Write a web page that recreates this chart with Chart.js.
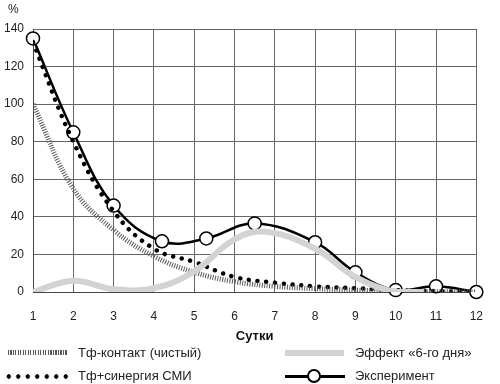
<!DOCTYPE html>
<html>
<head>
<meta charset="utf-8">
<script src="https://cdn.jsdelivr.net/npm/chart.js@4"></script>
<style>
  body { margin: 0; background: #fff; font-family: "Liberation Sans", Arial, sans-serif; color: #222; }
  #wrap { position: relative; width: 500px; height: 384px; }
  #pct { position: absolute; left: 8px; top: 2px; font-size: 12px; }
  .lg { position: absolute; font-size: 13px; line-height: 16px; }
  .smp { position: absolute; }
</style>
</head>
<body>
<div id="wrap">
  <canvas id="chart" width="500" height="348"></canvas>
  <div id="pct">%</div>
  <!-- легенда -->
  <div class="smp" style="left:8px;top:350px;width:59px;height:5px;background:repeating-linear-gradient(90deg,#555 0 1px,#fff 1px 2.5px);"></div>
  <div class="lg" style="left:78px;top:345px;">Тф-контакт (чистый)</div>
  <div class="smp" style="left:4px;top:374px;width:67px;height:5px;background:radial-gradient(circle,#000 2px,transparent 2.5px) 0 0/9.5px 5px repeat-x;"></div>
  <div class="lg" style="left:78px;top:368px;">Тф+синергия СМИ</div>
  <div class="smp" style="left:285px;top:350px;width:59px;height:6px;background:#d3d3d3;"></div>
  <div class="lg" style="left:355px;top:345px;">Эффект «6-го дня»</div>
  <div class="smp" style="left:285px;top:375px;width:60px;height:3px;background:#000;"></div>
  <div class="smp" style="left:307px;top:369px;width:14px;height:14px;border:2px solid #000;border-radius:50%;background:#fff;box-sizing:border-box;"></div>
  <div class="lg" style="left:355px;top:368px;">Эксперимент</div>
</div>
<script>
// данные
const days = [1, 2, 3, 4, 5, 6, 7, 8, 9, 10, 11, 12];
const contactValues = [100, 55, 33, 19, 10.5, 5.5, 3, 1.8, 1, 0.5, 0.2, 0];
const synergyValues = [133, 80, 43, 23, 16, 8, 5, 3, 2, 1, 0.5, 0];
const effectX = [1, 2, 3, 4, 5, 6, 6.8, 8, 9, 10, 10.7];
const effectValues = [0, 6, 1.5, 2, 11, 28, 32, 23, 8, 0, 0];
const experimentX = [1, 2, 3, 4.2, 5.3, 6.5, 8, 9, 10, 11, 12];
const experimentValues = [135, 85, 46, 27, 28.5, 36.5, 26.5, 10.5, 1, 3, 0];
const yTicks = [0, 20, 40, 60, 80, 100, 120, 140];

function pts(xs, ys) {
    return xs.map((x, i) => ({ x: x, y: ys[i] }));
}

const font = { family: '"Liberation Sans", Arial, sans-serif', size: 12 };

new Chart(document.getElementById('chart'), {
    type: 'line',
    data: {
        datasets: [
            {
                label: 'Эффект «6-го дня»',
                data: pts(effectX, effectValues),
                borderColor: '#d3d3d3',
                borderWidth: 6,
                tension: 0.4,
                pointRadius: 0
            },
            {
                label: 'Тф-контакт (чистый)',
                data: pts(days, contactValues),
                borderColor: '#555',
                borderWidth: 5,
                borderDash: [1, 1.5],
                tension: 0.4,
                pointRadius: 0
            },
            {
                label: 'Тф+синергия СМИ',
                data: pts(days, synergyValues),
                borderColor: '#000',
                borderWidth: 4.5,
                borderDash: [0.01, 8.8],
                borderCapStyle: 'round',
                tension: 0.4,
                pointRadius: 0
            },
            {
                label: 'Эксперимент',
                data: pts(experimentX, experimentValues),
                borderColor: '#000',
                borderWidth: 2.5,
                tension: 0.4,
                clip: false,
                pointRadius: 6.5,
                pointBorderWidth: 1.5,
                pointBackgroundColor: '#fff',
                pointBorderColor: '#000'
            }
        ]
    },
    options: {
        responsive: false,
        animation: false,
        layout: { padding: { top: 29, right: 7, left: 0, bottom: 0 } },
        plugins: { legend: { display: false }, tooltip: { enabled: false } },
        scales: {
            x: {
                type: 'linear',
                min: 1,
                max: 12,
                ticks: { stepSize: 1, color: '#222', font: font, padding: 17 },
                grid: { color: '#666', drawTicks: false },
                border: { color: '#444' },
                title: { display: true, text: 'Сутки', color: '#111', font: { family: font.family, size: 13, weight: 'bold' }, padding: { top: 10 } },
                afterFit: s => { s.height = 56; }
            },
            y: {
                min: 0,
                max: 140,
                afterBuildTicks: s => { s.ticks = yTicks.map(v => ({ value: v })); },
                ticks: { color: '#222', font: font, padding: 9 },
                grid: { color: '#666', drawTicks: false },
                border: { color: '#444' },
                afterFit: s => { s.width = 33; }
            }
        }
    }
});
</script>
</body>
</html>
